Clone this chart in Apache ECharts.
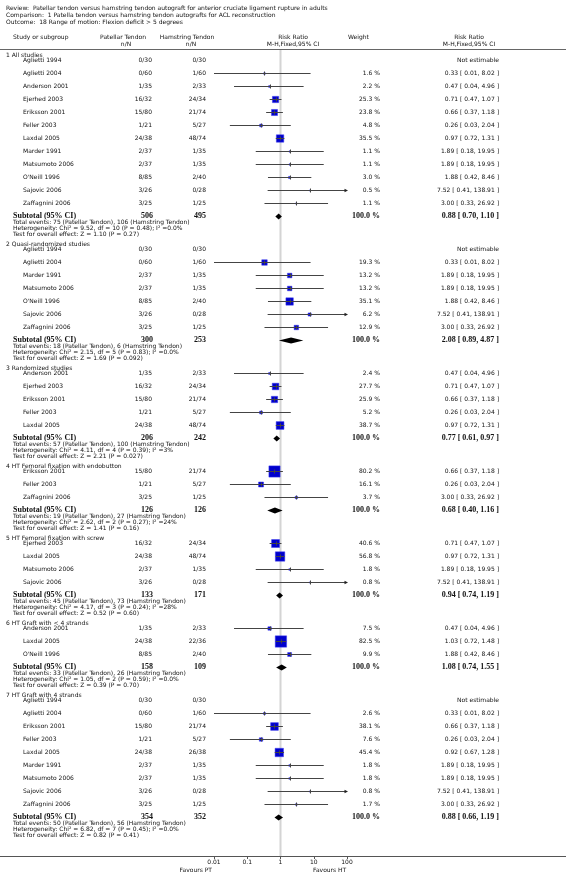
<!DOCTYPE html>
<html><head><meta charset="utf-8">
<script src="https://cdn.jsdelivr.net/npm/echarts@6.0.0/dist/echarts.min.js"></script>
<style>html,body{margin:0;padding:0;background:#fff}#c{width:566px;height:888px}</style>
</head><body><div id="c"></div>
<script>
// ---------- header text ----------
const headerLines = [
  'Review:  Patellar tendon versus hamstring tendon autograft for anterior cruciate ligament rupture in adults',
  'Comparison:  1 Patella tendon versus hamstring tendon autografts for ACL reconstruction',
  'Outcome:  18 Range of motion: Flexion deficit > 5 degrees'
];
const sectionTitles = ['1 All studies','2 Quasi-randomized studies','3 Randomized studies',
  '4 HT Femoral fixation with endobutton','5 HT Femoral fixation with screw',
  '6 HT Graft with < 4 strands','7 HT Graft with 4 strands'];
const tickLabels = ['0.01','0.1','1','10','100'];
const noEffect = [1];

// ---------- section 1 ----------
const s1_name = ['Aglietti 1994','Aglietti 2004','Anderson 2001','Ejerhed 2003','Eriksson 2001','Feller 2003','Laxdal 2005','Marder 1991','Matsumoto 2006',"O'Neill 1996",'Sajovic 2006','Zaffagnini 2006'];
const s1_pt = ['0/30','0/60','1/35','16/32','15/80','1/21','24/38','2/37','2/37','8/85','3/26','3/25'];
const s1_ht = ['0/30','1/60','2/33','24/34','21/74','5/27','48/74','1/35','1/35','2/40','0/28','1/25'];
const s1_w  = [null,1.6,2.2,25.3,23.8,4.8,35.5,1.1,1.1,3.0,0.5,1.1];
const s1_rr = [null,0.33,0.47,0.71,0.66,0.26,0.97,1.89,1.89,1.88,7.52,3.00];
const s1_lo = [null,0.01,0.04,0.47,0.37,0.03,0.72,0.18,0.18,0.42,0.41,0.33];
const s1_hi = [null,8.02,4.96,1.07,1.18,2.04,1.31,19.95,19.95,8.46,138.91,26.92];
// ---------- section 2 ----------
const s2_name = ['Aglietti 1994','Aglietti 2004','Marder 1991','Matsumoto 2006',"O'Neill 1996",'Sajovic 2006','Zaffagnini 2006'];
const s2_pt = ['0/30','0/60','2/37','2/37','8/85','3/26','3/25'];
const s2_ht = ['0/30','1/60','1/35','1/35','2/40','0/28','1/25'];
const s2_w  = [null,19.3,13.2,13.2,35.1,6.2,12.9];
const s2_rr = [null,0.33,1.89,1.89,1.88,7.52,3.00];
const s2_lo = [null,0.01,0.18,0.18,0.42,0.41,0.33];
const s2_hi = [null,8.02,19.95,19.95,8.46,138.91,26.92];
// ---------- section 3 ----------
const s3_name = ['Anderson 2001','Ejerhed 2003','Eriksson 2001','Feller 2003','Laxdal 2005'];
const s3_pt = ['1/35','16/32','15/80','1/21','24/38'];
const s3_ht = ['2/33','24/34','21/74','5/27','48/74'];
const s3_w  = [2.4,27.7,25.9,5.2,38.7];
const s3_rr = [0.47,0.71,0.66,0.26,0.97];
const s3_lo = [0.04,0.47,0.37,0.03,0.72];
const s3_hi = [4.96,1.07,1.18,2.04,1.31];
// ---------- section 4 ----------
const s4_name = ['Eriksson 2001','Feller 2003','Zaffagnini 2006'];
const s4_pt = ['15/80','1/21','3/25'];
const s4_ht = ['21/74','5/27','1/25'];
const s4_w  = [80.2,16.1,3.7];
const s4_rr = [0.66,0.26,3.00];
const s4_lo = [0.37,0.03,0.33];
const s4_hi = [1.18,2.04,26.92];
// ---------- section 5 ----------
const s5_name = ['Ejerhed 2003','Laxdal 2005','Matsumoto 2006','Sajovic 2006'];
const s5_pt = ['16/32','24/38','2/37','3/26'];
const s5_ht = ['24/34','48/74','1/35','0/28'];
const s5_w  = [40.6,56.8,1.8,0.8];
const s5_rr = [0.71,0.97,1.89,7.52];
const s5_lo = [0.47,0.72,0.18,0.41];
const s5_hi = [1.07,1.31,19.95,138.91];
// ---------- section 6 ----------
const s6_name = ['Anderson 2001','Laxdal 2005',"O'Neill 1996"];
const s6_pt = ['1/35','24/38','8/85'];
const s6_ht = ['2/33','22/36','2/40'];
const s6_w  = [7.5,82.5,9.9];
const s6_rr = [0.47,1.03,1.88];
const s6_lo = [0.04,0.72,0.42];
const s6_hi = [4.96,1.48,8.46];
// ---------- section 7 ----------
const s7_name = ['Aglietti 1994','Aglietti 2004','Eriksson 2001','Feller 2003','Laxdal 2005','Marder 1991','Matsumoto 2006','Sajovic 2006','Zaffagnini 2006'];
const s7_pt = ['0/30','0/60','15/80','1/21','24/38','2/37','2/37','3/26','3/25'];
const s7_ht = ['0/30','1/60','21/74','5/27','26/38','1/35','1/35','0/28','1/25'];
const s7_w  = [null,2.6,38.1,7.6,45.4,1.8,1.8,0.8,1.7];
const s7_rr = [null,0.33,0.66,0.26,0.92,1.89,1.89,7.52,3.00];
const s7_lo = [null,0.01,0.37,0.03,0.67,0.18,0.18,0.41,0.33];
const s7_hi = [null,8.02,1.18,2.04,1.28,19.95,19.95,138.91,26.92];

// ---------- subtotals ----------
const sub_pt = [506,300,206,126,133,158,354];
const sub_ht = [495,253,242,126,171,109,352];
const sub_rr = [0.88,2.08,0.77,0.68,0.94,1.08,0.88];
const sub_lo = [0.70,0.89,0.61,0.40,0.74,0.74,0.66];
const sub_hi = [1.10,4.87,0.97,1.16,1.19,1.55,1.19];
const ev_pt = [75,18,57,19,45,33,50];
const ev_ht = [106,6,100,27,73,26,56];
const het_chi = ['9.52','2.15','4.11','2.62','4.17','1.05','6.82'];
const het_df = [10,5,4,2,3,2,7];
const het_p = ['0.48','0.83','0.39','0.27','0.24','0.59','0.45'];
const het_i2 = ['0.0%','0.0%','3%','24%','28%','0.0%','0.0%'];
const z_val = ['1.10','1.69','2.21','1.41','0.52','0.39','0.82'];
const z_p = ['0.27','0.092','0.027','0.16','0.60','0.70','0.41'];

const sections = [
  [s1_name,s1_pt,s1_ht,s1_w,s1_rr,s1_lo,s1_hi],
  [s2_name,s2_pt,s2_ht,s2_w,s2_rr,s2_lo,s2_hi],
  [s3_name,s3_pt,s3_ht,s3_w,s3_rr,s3_lo,s3_hi],
  [s4_name,s4_pt,s4_ht,s4_w,s4_rr,s4_lo,s4_hi],
  [s5_name,s5_pt,s5_ht,s5_w,s5_rr,s5_lo,s5_hi],
  [s6_name,s6_pt,s6_ht,s6_w,s6_rr,s6_lo,s6_hi],
  [s7_name,s7_pt,s7_ht,s7_w,s7_rr,s7_lo,s7_hi]
];

// ---------- layout ----------
const TOP_LINE = 50, AXIS_Y = 856;
const FIRST_TITLE = 55, TITLE_TO_FIRST = 5, ROW = 13;
const FOOT = [6.5, 12.5, 18.5], NEXT_TITLE = 28;
const X = {title:6, name:23, sub:13, pt:152, ht:206, w:380, rr:499};
const FF = '"DejaVu Sans", sans-serif';
const fReg = '6px ' + FF;
const fFoot = '6px ' + FF;
const fBold = 'bold 8px "Liberation Serif", serif';
const TXT = '#111';

const f2 = v => v.toFixed(2);
const rows = [];
const studyMarks = [];
const diamonds = [];
let cur = FIRST_TITLE;
sections.forEach((s, k) => {
  const [nm, pt, ht, w, rr, lo, hi] = s;
  rows.push({kind:'title', y:cur, text:sectionTitles[k]});
  let y = cur + TITLE_TO_FIRST;
  nm.forEach((n, i) => {
    rows.push({kind:'study', y, name:n, pt:pt[i], ht:ht[i], w:w[i],
      rrText: rr[i] == null ? 'Not estimable' : f2(rr[i]) + ' [ ' + f2(lo[i]) + ', ' + f2(hi[i]) + ' ]'});
    if (rr[i] != null) studyMarks.push([rr[i], y, lo[i], hi[i], w[i]]);
    y += ROW;
  });
  rows.push({kind:'subtotal', y, pt:sub_pt[k], ht:sub_ht[k],
    rrText: f2(sub_rr[k]) + ' [ ' + f2(sub_lo[k]) + ', ' + f2(sub_hi[k]) + ' ]'});
  diamonds.push([sub_rr[k], y, sub_lo[k], sub_hi[k]]);
  const foot = [
    'Total events: ' + ev_pt[k] + ' (Patellar Tendon), ' + ev_ht[k] + ' (Hamstring Tendon)',
    'Heterogeneity: Chi\u00B2 = ' + het_chi[k] + ', df = ' + het_df[k] + ' (P = ' + het_p[k] + '); I\u00B2 =' + het_i2[k],
    'Test for overall effect: Z = ' + z_val[k] + ' (P = ' + z_p[k] + ')'
  ];
  foot.forEach((t, j) => rows.push({kind:'foot', y: y + FOOT[j], text:t}));
  cur = y + NEXT_TITLE;
});

function txt(text, x, y, align, font) {
  return {type:'text', style:{text, x, y, align, verticalAlign:'middle', font, fill:TXT}};
}

function renderText(params, api) {
  const r = rows[api.value(2)];
  const y = api.coord([1, api.value(1)])[1];
  const ch = [];
  if (r.kind === 'title') ch.push(txt(r.text, X.title, y, 'left', fReg));
  else if (r.kind === 'foot') ch.push(txt(r.text, X.sub, y, 'left', fFoot));
  else if (r.kind === 'study') {
    ch.push(txt(r.name, X.name, y, 'left', fReg));
    ch.push(txt(r.pt, X.pt, y, 'right', fReg));
    ch.push(txt(r.ht, X.ht, y, 'right', fReg));
    if (r.w != null) ch.push(txt(r.w.toFixed(1) + ' %', X.w, y, 'right', fReg));
    ch.push(txt(r.rrText, X.rr, y, 'right', fReg));
  } else if (r.kind === 'subtotal') {
    ch.push(txt('Subtotal (95% CI)', X.sub, y, 'left', fBold));
    ch.push(txt(String(r.pt), X.pt + 1, y, 'right', fBold));
    ch.push(txt(String(r.ht), X.ht, y, 'right', fBold));
    ch.push(txt('100.0 %', X.w, y, 'right', fBold));
    ch.push(txt(r.rrText, X.rr, y, 'right', fBold));
  }
  return {type:'group', children:ch};
}

const XMIN = 0.01, XMAX = 100;
function renderStudy(params, api) {
  const rr = api.value(0), yv = api.value(1), lo = api.value(2), hi = api.value(3), w = api.value(4);
  const pE = api.coord([rr, yv]);
  const pL = api.coord([Math.max(lo, XMIN), yv]);
  const pH = api.coord([Math.min(hi, XMAX), yv]);
  const yl = Math.round(pE[1]) + 0.5;
  const side = Math.max(1, 1.25 * Math.sqrt(w));
  const ch = [
    {type:'rect', shape:{x:pE[0] - side/2, y:yl - side/2, width:side, height:side},
      style:{fill:'#0000cc', stroke:'#3a3af0', lineWidth:0.5}},
    {type:'line', shape:{x1:pL[0], y1:yl, x2:pH[0], y2:yl}, style:{stroke:'#444', lineWidth:1}},
    {type:'line', shape:{x1:Math.round(pE[0]) + 0.5, y1:yl - 2, x2:Math.round(pE[0]) + 0.5, y2:yl + 2}, style:{stroke:'#444', lineWidth:1}}
  ];
  if (hi > XMAX) ch.push({type:'polygon', shape:{points:[[pH[0] + 1, yl], [pH[0] - 2.5, yl - 1.8], [pH[0] - 2.5, yl + 1.8]]}, style:{fill:'#222'}});
  if (lo < XMIN) ch.push({type:'polygon', shape:{points:[[pL[0] - 1, yl], [pL[0] + 2.5, yl - 1.8], [pL[0] + 2.5, yl + 1.8]]}, style:{fill:'#222'}});
  return {type:'group', children:ch};
}

function renderDiamond(params, api) {
  const rr = api.value(0), yv = api.value(1), lo = api.value(2), hi = api.value(3);
  const pE = api.coord([rr, yv]);
  const pL = api.coord([lo, yv]);
  const pH = api.coord([hi, yv]);
  const yc = Math.round(pE[1]) + 0.5;
  const h = 3;
  return {type:'polygon', shape:{points:[[pL[0], yc], [pE[0], yc - h], [pH[0], yc], [pE[0], yc + h]]},
    style:{fill:'#000'}};
}

function renderNoEffect(params, api) {
  const cs = params.coordSys;
  const x = api.coord([api.value(0), TOP_LINE])[0];
  return {type:'line', shape:{x1:x, y1:cs.y, x2:x, y2:cs.y + cs.height}, style:{stroke:'#d4d4d4', lineWidth:2}};
}

const graphics = [];
headerLines.forEach((t, i) => graphics.push({type:'text', style:{text:t, x:6, y:8 + i * 7, verticalAlign:'middle', font:fReg, fill:TXT}}));
const hdr = [
  ['Study or subgroup', 13, 37, 'left'],
  ['Patellar Tendon', 123, 37, 'center'], ['n/N', 126, 44, 'center'],
  ['Hamstring Tendon', 187, 37, 'center'], ['n/N', 191, 44, 'center'],
  ['Risk Ratio', 293, 37, 'center'], ['M-H,Fixed,95% CI', 293, 44, 'center'],
  ['Weight', 348, 37, 'left'],
  ['Risk Ratio', 469, 37, 'center'], ['M-H,Fixed,95% CI', 469, 44, 'center']
];
hdr.forEach(h => graphics.push({type:'text', style:{text:h[0], x:h[1], y:h[2], align:h[3], verticalAlign:'middle', font:fReg, fill:TXT}}));
graphics.push({type:'line', shape:{x1:0, y1:TOP_LINE - 0.5, x2:566, y2:TOP_LINE - 0.5}, style:{stroke:'#666', lineWidth:1}});
graphics.push({type:'line', shape:{x1:0, y1:AXIS_Y + 0.5, x2:566, y2:AXIS_Y + 0.5}, style:{stroke:'#555', lineWidth:1}});
graphics.push({type:'text', style:{text:'Favours PT', x:212, y:870, align:'right', verticalAlign:'middle', font:fReg, fill:TXT}});
graphics.push({type:'text', style:{text:'Favours HT', x:313, y:870, align:'left', verticalAlign:'middle', font:fReg, fill:TXT}});

const chart = echarts.init(document.getElementById('c'), null, {renderer:'canvas'});
chart.setOption({
  animation:false,
  backgroundColor:'#fff',
  grid:{left:214, width:133, top:TOP_LINE, height:AXIS_Y - TOP_LINE},
  xAxis:{type:'log', logBase:10, min:XMIN, max:XMAX,
    axisLine:{show:false}, splitLine:{show:false},
    axisTick:{show:true, length:3, lineStyle:{color:'#555'}},
    axisLabel:{fontSize:6, fontFamily:'DejaVu Sans', color:TXT, margin:3,
      formatter: v => { const e = Math.round(Math.log10(v)); return tickLabels[e + 2]; }}},
  yAxis:{type:'value', min:TOP_LINE, max:AXIS_Y, inverse:true, show:false},
  graphic:graphics,
  series:[
    {type:'custom', z:1, clip:false, silent:true, renderItem:renderNoEffect, data:noEffect.map(v => [v, TOP_LINE])},
    {type:'custom', z:3, clip:false, silent:true, renderItem:renderStudy, data:studyMarks},
    {type:'custom', z:3, clip:false, silent:true, renderItem:renderDiamond, data:diamonds},
    {type:'custom', z:4, clip:false, silent:true, renderItem:renderText,
      data: rows.map((r, i) => [1, r.y, i])}
  ]
});
</script></body></html>
